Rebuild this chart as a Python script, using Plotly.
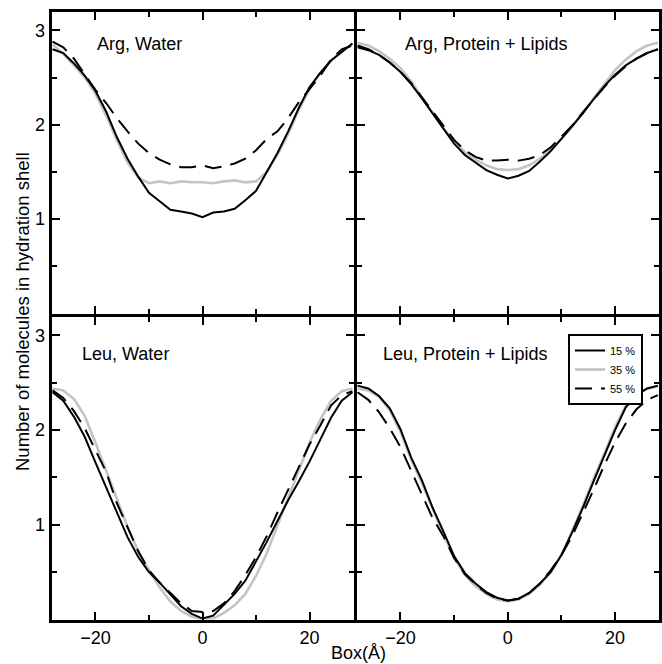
import plotly.graph_objects as go

# ---------------- data ----------------
box_x = [-28, -26, -24, -22, -20, -18, -16, -14, -12, -10, -8, -6, -4, -2, 0,
         2, 4, 6, 8, 10, 12, 14, 16, 18, 20, 22, 24, 26, 28]

series_names = ["15 %", "35 %", "55 %"]
panel_titles = ["Arg, Water", "Arg, Protein + Lipids", "Leu, Water", "Leu, Protein + Lipids"]

# Arg, Water
arg_water_15 = [2.80, 2.76, 2.65, 2.52, 2.36, 2.14, 1.87, 1.64, 1.45, 1.28, 1.19, 1.10, 1.08, 1.06, 1.02,
                1.07, 1.08, 1.11, 1.20, 1.30, 1.50, 1.70, 1.93, 2.18, 2.40, 2.55, 2.68, 2.77, 2.86]
arg_water_35 = [2.85, 2.75, 2.63, 2.50, 2.33, 2.10, 1.84, 1.60, 1.44, 1.38, 1.40, 1.38, 1.40, 1.39, 1.39,
                1.38, 1.40, 1.41, 1.39, 1.40, 1.50, 1.68, 1.90, 2.16, 2.38, 2.55, 2.68, 2.77, 2.86]
arg_water_55 = [2.88, 2.82, 2.70, 2.53, 2.37, 2.23, 2.07, 1.93, 1.80, 1.70, 1.63, 1.58, 1.55, 1.55, 1.57,
                1.54, 1.56, 1.59, 1.64, 1.73, 1.85, 1.93, 2.07, 2.24, 2.38, 2.52, 2.69, 2.80, 2.84]

# Arg, Protein + Lipids
arg_prot_15 = [2.82, 2.79, 2.74, 2.66, 2.56, 2.43, 2.28, 2.12, 1.95, 1.80, 1.68, 1.60, 1.52, 1.47, 1.43,
               1.46, 1.51, 1.61, 1.72, 1.85, 1.98, 2.12, 2.27, 2.41, 2.53, 2.63, 2.70, 2.76, 2.80]
arg_prot_35 = [2.87, 2.84, 2.78, 2.70, 2.60, 2.46, 2.29, 2.12, 1.96, 1.83, 1.71, 1.63, 1.57, 1.53, 1.52,
               1.53, 1.57, 1.64, 1.73, 1.85, 1.98, 2.13, 2.28, 2.44, 2.58, 2.69, 2.78, 2.84, 2.87]
arg_prot_55 = [2.84, 2.80, 2.74, 2.66, 2.56, 2.44, 2.29, 2.14, 1.98, 1.84, 1.73, 1.66, 1.62, 1.62, 1.63,
               1.62, 1.64, 1.68, 1.76, 1.87, 1.99, 2.13, 2.27, 2.40, 2.52, 2.62, 2.70, 2.76, 2.80]

# Leu, Water
leu_water_15 = [2.40, 2.31, 2.14, 1.93, 1.66, 1.40, 1.14, 0.87, 0.66, 0.50, 0.39, 0.27, 0.14, 0.06, 0.01,
                0.04, 0.15, 0.27, 0.41, 0.61, 0.82, 1.04, 1.26, 1.46, 1.67, 1.90, 2.13, 2.31, 2.40]
leu_water_35 = [2.44, 2.42, 2.33, 2.15, 1.87, 1.57, 1.28, 0.98, 0.72, 0.52, 0.34, 0.19, 0.09, 0.03, 0.00,
                0.01, 0.07, 0.15, 0.27, 0.46, 0.70, 0.99, 1.27, 1.58, 1.87, 2.11, 2.31, 2.41, 2.44]
leu_water_55 = [2.42, 2.34, 2.20, 2.02, 1.79, 1.56, 1.23, 0.98, 0.72, 0.52, 0.39, 0.28, 0.17, 0.09, 0.08,
                0.09, 0.17, 0.30, 0.47, 0.66, 0.88, 1.13, 1.37, 1.62, 1.85, 2.05, 2.26, 2.37, 2.41]

# Leu, Protein + Lipids
leu_prot_15 = [2.47, 2.44, 2.36, 2.23, 2.01, 1.71, 1.47, 1.18, 0.93, 0.67, 0.49, 0.38, 0.29, 0.23, 0.20,
               0.22, 0.28, 0.38, 0.50, 0.68, 0.92, 1.18, 1.46, 1.72, 2.00, 2.24, 2.37, 2.44, 2.47]
leu_prot_35 = [2.44, 2.42, 2.35, 2.21, 1.98, 1.69, 1.44, 1.16, 0.90, 0.65, 0.47, 0.35, 0.27, 0.21, 0.19,
               0.21, 0.27, 0.37, 0.50, 0.68, 0.93, 1.20, 1.49, 1.75, 2.03, 2.26, 2.38, 2.44, 2.46]
leu_prot_55 = [2.40, 2.32, 2.19, 2.02, 1.82, 1.57, 1.33, 1.07, 0.88, 0.65, 0.48, 0.37, 0.28, 0.22, 0.20,
               0.22, 0.28, 0.38, 0.52, 0.68, 0.88, 1.12, 1.37, 1.63, 1.87, 2.07, 2.22, 2.32, 2.37]

x_ticks = [-20, 0, 20]
x_minor = [-10, 10]
y_ticks = [1, 2, 3]
y_tick_text = ["1", "2", "3"]
y_minor = [0.5, 1.5, 2.5]

panels = [
    (arg_water_15, arg_water_35, arg_water_55),
    (arg_prot_15, arg_prot_35, arg_prot_55),
    (leu_water_15, leu_water_35, leu_water_55),
    (leu_prot_15, leu_prot_35, leu_prot_55),
]

# ---------------- styling ----------------
W, H = 662, 664
FONT = "Liberation Sans, Arial, Helvetica, sans-serif"
colors = ["#000000", "#c4c4c4", "#000000"]
widths = [2, 2.6, 2]
dashes = ["solid", "solid", "17px,9px"]
draw_order = [1, 0, 2]  # gray first, then black, then dashed

fig = go.Figure()
for p, (s15, s35, s55) in enumerate(panels):
    vals = [s15, s35, s55]
    suffix = "" if p == 0 else str(p + 1)
    for k in draw_order:
        fig.add_trace(go.Scatter(
            x=box_x, y=vals[k], mode="lines",
            name=series_names[k],
            line=dict(color=colors[k], width=widths[k], dash=dashes[k]),
            xaxis="x" + suffix, yaxis="y" + suffix,
            showlegend=(p == 3), legendrank=k + 1,
        ))

# domains in pixels (axis lines drawn 1.5 px outside the domain)
LW = 3
x_left = [(50 + LW / 2) / W, (355 - LW / 2) / W]
x_right = [(355 + LW / 2) / W, (660.5 - LW / 2) / W]
y_top = [1 - (315 - LW / 2) / H, 1 - (10 + LW / 2) / H]
y_bot = [1 - (621 - LW / 2) / H, 1 - (315 + LW / 2) / H]


def xax(domain, anchor, labels):
    return dict(domain=domain, anchor=anchor, range=[-28.2, 28.2],
                showline=True, linewidth=LW, linecolor="black", mirror="ticks",
                ticks="inside", ticklen=8, tickwidth=2, tickcolor="black",
                tickvals=x_ticks, showticklabels=labels,
                tickfont=dict(family=FONT, size=18, color="black"),
                minor=dict(tickvals=x_minor, ticks="inside", ticklen=5, tickwidth=2, tickcolor="black"),
                showgrid=False, zeroline=False)


def yax(domain, anchor, labels):
    return dict(domain=domain, anchor=anchor, range=[0, 3.2],
                showline=True, linewidth=LW, linecolor="black", mirror="ticks",
                ticks="inside", ticklen=8, tickwidth=2, tickcolor="black",
                tickvals=y_ticks, ticktext=y_tick_text, showticklabels=labels,
                tickfont=dict(family=FONT, size=18, color="black"),
                minor=dict(tickvals=y_minor, ticks="inside", ticklen=5, tickwidth=2, tickcolor="black"),
                showgrid=False, zeroline=False)


title_pos = [(95, 44), (403, 44), (80, 354), (381, 354)]
annotations = []
for t, (px, py) in zip(panel_titles, title_pos):
    annotations.append(dict(text=t, x=px / W, y=1 - py / H, xref="paper", yref="paper",
                            xanchor="left", yanchor="middle", showarrow=False,
                            font=dict(family=FONT, size=18, color="black")))
annotations.append(dict(text="Number of molecules in hydration shell", x=22 / W, y=1 - 312 / H,
                        xref="paper", yref="paper", textangle=-90, showarrow=False,
                        xanchor="center", yanchor="middle",
                        font=dict(family=FONT, size=18.5, color="black")))
annotations.append(dict(text="Box(Å)", x=358 / W, y=0.0,
                        xref="paper", yref="paper", showarrow=False,
                        xanchor="center", yanchor="bottom", borderpad=0,
                        font=dict(family=FONT, size=18, color="black")))

fig.update_layout(
    width=W, height=H,
    margin=dict(l=0, r=0, t=0, b=0),
    paper_bgcolor="white", plot_bgcolor="white",
    xaxis=xax(x_left, "y", False),
    yaxis=yax(y_top, "x", True),
    xaxis2=xax(x_right, "y2", False),
    yaxis2=yax(y_top, "x2", False),
    xaxis3=xax(x_left, "y3", True),
    yaxis3=yax(y_bot, "x3", True),
    xaxis4=xax(x_right, "y4", True),
    yaxis4=yax(y_bot, "x4", False),
    annotations=annotations,
    legend=dict(x=643 / W, y=1 - 334 / H, xanchor="right", yanchor="top",
                bordercolor="black", borderwidth=2, bgcolor="white",
                font=dict(family=FONT, size=11, color="black"),
                tracegroupgap=0, itemwidth=30),
    showlegend=True,
)

fig.write_html("out.html")
